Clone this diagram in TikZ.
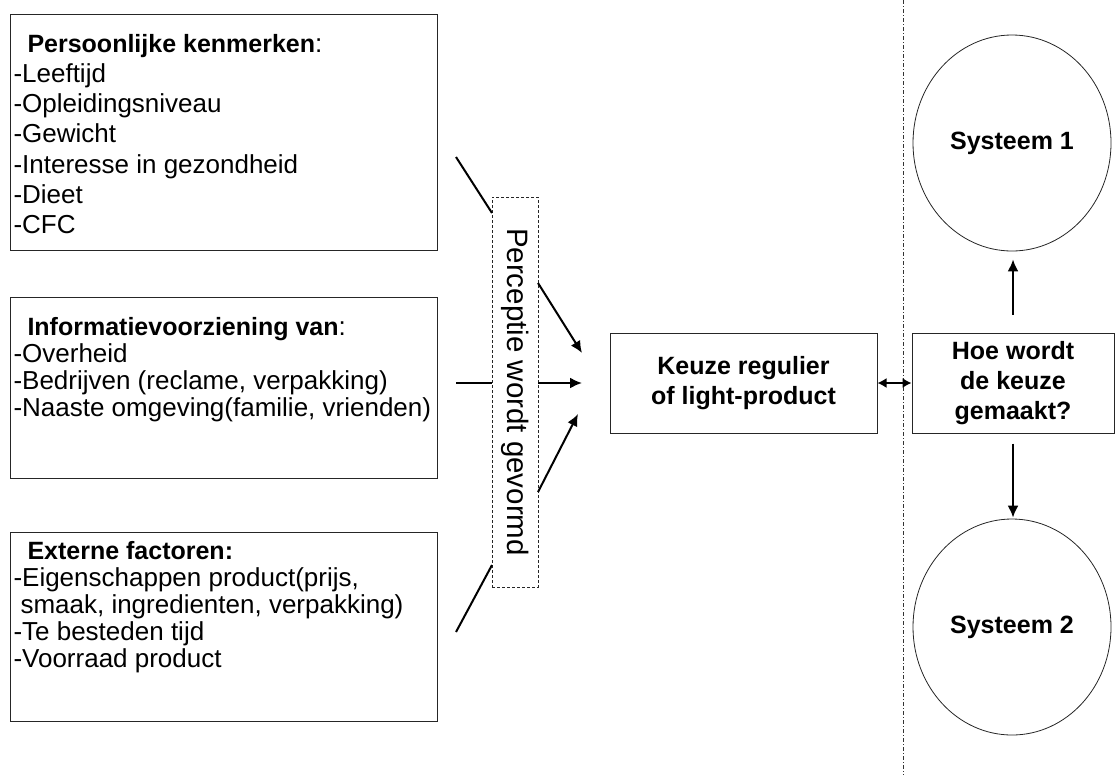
\documentclass[tikz,border=0pt]{standalone}
\usepackage{fontspec}
\setmainfont{Liberation Sans}
\usepackage{tikz}
\usetikzlibrary{arrows.meta,shapes.geometric}

\newcommand{\kop}[1]{{\bfseries\fontsize{25pt}{28.5pt}\selectfont #1}}

\begin{document}
\begin{tikzpicture}[x=1pt,y=-1pt,
	lijst/.style={draw=black!85,line width=1pt,anchor=north west,inner xsep=3pt,inner ysep=0pt,font=\fontsize{26pt}{27pt}\selectfont},
	blok/.style={draw=black!85,line width=1pt,align=center,minimum height=100pt,inner sep=0pt,font=\bfseries\fontsize{25pt}{30pt}\selectfont},
	systeem/.style={ellipse,draw=black!85,line width=0.8pt,minimum width=198pt,minimum height=216pt,font=\bfseries\fontsize{25pt}{30pt}\selectfont},
	perceptie/.style={draw=black!85,dashed,dash pattern=on 3pt off 2pt,line width=0.8pt,minimum width=46pt,minimum height=390pt,inner sep=0pt,font=\fontsize{29.5pt}{30pt}\selectfont},
	lijn/.style={line width=2pt},
	pijl/.style={line width=2pt,-{Latex[length=12pt,width=11pt]}},
	dubbel/.style={line width=1.6pt,{Latex[length=9pt,width=10pt]}-{Latex[length=9pt,width=10pt]}}]
		\useasboundingbox (0,0) rectangle (1115,780);
		% invloeden links
		\node[lijst,font=\fontsize{26pt}{30.3pt}\selectfont] (pk) at (10,14) {\parbox[t][236pt][t]{421pt}{\rule{0pt}{37.5pt}\hspace*{14pt}\kop{Persoonlijke kenmerken}:\\-Leeftijd\\-Opleidingsniveau\\-Gewicht\\-Interesse in gezondheid\\-Dieet\\-CFC}};
		\node[lijst] (info) at (10,297) {\parbox[t][181pt][t]{421pt}{\rule{0pt}{38pt}\hspace*{14pt}\kop{Informatievoorziening van}:\\-Overheid\\-Bedrijven (reclame, verpakking)\\-Naaste omgeving(familie, vrienden)}};
		\node[lijst] (ext) at (10,532) {\parbox[t][189pt][t]{421pt}{\rule{0pt}{27pt}\hspace*{14pt}\kop{Externe factoren:}\\-Eigenschappen product(prijs,\\\hspace*{7pt}smaak, ingredienten, verpakking)\\-Te besteden tijd\\-Voorraad product}};
		\node[perceptie] (perc) at (515,392) {\rotatebox{-90}{Perceptie wordt gevormd}};
		% keuze
		\node[blok,minimum width=267pt] (keuze) at (743.5,383) {Keuze regulier\\of light-product};
		\node[blok,minimum width=202pt] (hoe) at (1013,383) {Hoe wordt\\de keuze\\gemaakt?};
		\node[systeem] (sys1) at (1012,143) {Systeem 1};
		\node[systeem] (sys2) at (1012,627) {Systeem 2};
		\draw[black!80,line width=0.8pt,dash pattern=on 4pt off 2pt on 1pt off 2pt] (903,0) -- (903,775);
		% lijnen door de perceptie
		\coordinate (a1) at (456,157); \coordinate (b1) at (492,213);
		\coordinate (a2) at (456,383); \coordinate (b2) at (492,383);
		\coordinate (a3) at (456,632); \coordinate (b3) at (492,565);
		\coordinate (c1) at (538,283); \coordinate (d1) at (582,353);
		\coordinate (c2) at (538,383); \coordinate (d2) at (582,383);
		\coordinate (c3) at (538,492); \coordinate (d3) at (578,414);
		\draw[lijn] (a1) -- (b1); \draw[lijn] (a2) -- (b2); \draw[lijn] (a3) -- (b3);
		\draw[pijl] (c1) -- (d1); \draw[pijl] (c2) -- (d2); \draw[pijl] (c3) -- (d3);
		\draw[dubbel] (keuze.east) -- (hoe.west);
		\draw[pijl,shorten <=18pt,shorten >=8pt] (hoe.north) -- (hoe.north |- sys1.south);
		\draw[pijl,shorten <=10pt,shorten >=1pt] (hoe.south) -- (hoe.south |- sys2.north);
\end{tikzpicture}
\end{document}
